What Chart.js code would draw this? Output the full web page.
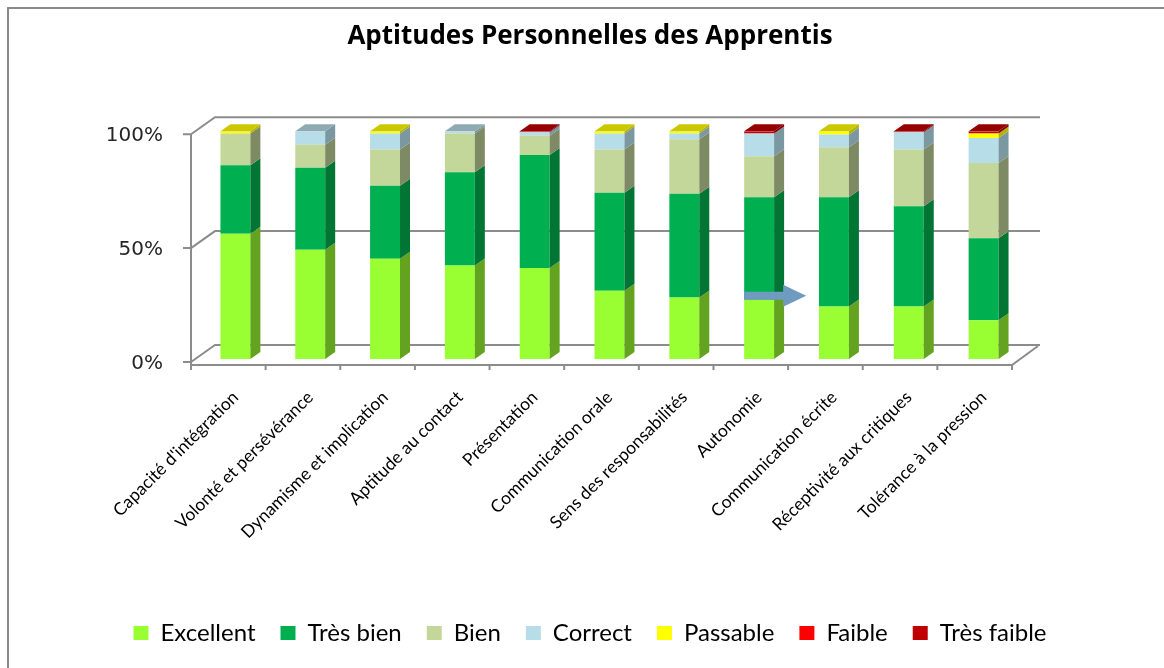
<!DOCTYPE html>
<html>
<head>
<meta charset="utf-8">
<script src="https://cdn.jsdelivr.net/npm/chart.js@4/dist/chart.umd.min.js"></script>
<style>
  html, body { margin: 0; padding: 0; background: #fff; }
  #wrap { width: 1164px; height: 668px; position: relative; }
</style>
</head>
<body>
<div id="wrap"><canvas id="chart" width="1164" height="668"></canvas></div>
<script>
// categories and series (percent of apprentices)
const categories = [
  "Capacité d'intégration", "Volonté et persévérance", "Dynamisme et implication",
  "Aptitude au contact", "Présentation", "Communication orale",
  "Sens des responsabilités", "Autonomie", "Communication écrite",
  "Réceptivité aux critiques", "Tolérance à la pression"
];
const excellent  = [55, 48, 44, 41, 40,   30, 27,   26, 23,   23,   17];
const tresBien   = [30, 36, 32, 41, 49.5, 43, 45.5, 45, 48,   44,   36];
const bien       = [14, 10, 16, 17, 8.5,  19, 24,   18, 22,   25,   33];
const correct    = [0,  6,  7,  1,  1.5,  7,  2.5,  10, 5.5,  7.5,  11];
const passable   = [1,  0,  1,  0,  0,    1,  1,    0,  1.5,  0,    2];
const faible     = [0,  0,  0,  0,  0,    0,  0,    0,  0,    0,    0];
const tresFaible = [0,  0,  0,  0,  0.5,  0,  0,    1,  0,    0.5,  1];
const yTicks = [0, 50, 100];

const seriesNames = ['Excellent', 'Très bien', 'Bien', 'Correct', 'Passable', 'Faible', 'Très faible'];
const seriesData = [excellent, tresBien, bien, correct, passable, faible, tresFaible];
const fronts = ['#99FF33', '#00B050', '#C4D79B', '#B7DDE8', '#FFFF00', '#FF0000', '#C00000'];
const sides  = ['#63A31F', '#007534', '#7E8A64', '#7B98A1', '#B3B300', '#B00000', '#7F0000'];
const tops   = ['#7ACC29', '#008C40', '#9EAD7C', '#8FAAB2', '#CCC800', '#CC0000', '#960000'];

const AXIS = '#8C8C8C';
const DX = 10, DY = 7;         // bar depth
const WX = 24, WY = 17;        // wall depth

// 3D look: back wall, floor, front axes, bar sides and tops
const depth3d = {
  id: 'depth3d',
  beforeDatasetsDraw(chart) {
    const ctx = chart.ctx, xs = chart.scales.x, ys = chart.scales.y;
    const step = (xs.right - xs.left) / categories.length;
    const fl = xs.left - 7, fr = xs.right - 9;
    const off = 3;
    ctx.save();
    ctx.strokeStyle = AXIS;
    ctx.lineWidth = 2;
    ctx.beginPath();
    yTicks.forEach(v => {
      const yf = ys.getPixelForValue(v) + off;
      ctx.moveTo(fl, yf); ctx.lineTo(fl + WX, yf - WY);
      ctx.lineTo(fr + WX + 4, yf - WY);
      ctx.moveTo(fl - 8, yf); ctx.lineTo(fl, yf);
    });
    // front y axis
    const y0 = ys.getPixelForValue(0) + off, y100 = ys.getPixelForValue(100) + off;
    ctx.moveTo(fl, y100); ctx.lineTo(fl, y0 + 4);
    // front x axis + floor edge
    const ya = y0 + 3;
    ctx.moveTo(fl, ya); ctx.lineTo(fr, ya); ctx.lineTo(fr + WX + 2, ya - WY - 2);
    for (let i = 0; i <= categories.length; i++) {
      const x = fl + i * step * (fr - fl) / (xs.right - xs.left);
      ctx.moveTo(x, ya); ctx.lineTo(x, ya + 5);
    }
    ctx.stroke();
    ctx.restore();
  },
  afterDatasetsDraw(chart) {
    const ctx = chart.ctx;
    const n = chart.data.datasets.length;
    ctx.save();
    categories.forEach((c, i) => {
      let topDs = -1;
      for (let d = 0; d < n; d++) {
        const bar = chart.getDatasetMeta(d).data[i];
        if (!seriesData[d][i]) continue;
        topDs = d;
        const r = bar.x + bar.width / 2;
        ctx.fillStyle = sides[d];
        ctx.beginPath();
        ctx.moveTo(r, bar.y); ctx.lineTo(r + DX, bar.y - DY);
        ctx.lineTo(r + DX, bar.base - DY); ctx.lineTo(r, bar.base);
        ctx.closePath(); ctx.fill();
      }
      if (topDs >= 0) {
        const bar = chart.getDatasetMeta(topDs).data[i];
        const l = bar.x - bar.width / 2, r = bar.x + bar.width / 2;
        ctx.fillStyle = tops[topDs];
        ctx.beginPath();
        ctx.moveTo(l, bar.y); ctx.lineTo(l + DX, bar.y - DY);
        ctx.lineTo(r + DX, bar.y - DY); ctx.lineTo(r, bar.y);
        ctx.closePath(); ctx.fill();
      }
    });
    // blue arrow annotation on Autonomie
    const k = categories.indexOf('Autonomie');
    const b = chart.getDatasetMeta(0).data[k];
    const ax = b.x - b.width / 2, ay = b.y - 4;
    ctx.fillStyle = '#6F9BC1';
    ctx.beginPath();
    ctx.moveTo(ax, ay - 4); ctx.lineTo(ax + 39, ay - 4); ctx.lineTo(ax + 39, ay - 11);
    ctx.lineTo(ax + 62, ay); ctx.lineTo(ax + 39, ay + 11); ctx.lineTo(ax + 39, ay + 4);
    ctx.lineTo(ax, ay + 4);
    ctx.closePath(); ctx.fill();
    ctx.restore();
  }
};

// outer frame
const frame = {
  id: 'frame',
  afterDraw(chart) {
    const ctx = chart.ctx;
    ctx.save();
    ctx.strokeStyle = '#8A8A8A';
    ctx.lineWidth = 2;
    ctx.strokeRect(8, 8, 1170, 680);
    ctx.restore();
  }
};

new Chart(document.getElementById('chart'), {
  type: 'bar',
  data: {
    labels: categories,
    datasets: seriesNames.map((name, d) => ({
      label: name,
      data: seriesData[d],
      backgroundColor: fronts[d],
      borderWidth: 0,
      barPercentage: 0.4,
      categoryPercentage: 1
    }))
  },
  options: {
    responsive: false,
    animation: false,
    layout: { padding: { left: 16, right: 0, top: 0, bottom: 13 } },
    plugins: {
      title: {
        display: true,
        text: 'Aptitudes Personnelles des Apprentis',
        font: { family: 'Open Sans', size: 26, weight: 'bold', lineHeight: 1.2 },
        color: '#000',
        padding: { top: 21, bottom: 79 }
      },
      legend: {
        position: 'bottom',
        labels: {
          font: { family: 'Lato', size: 24 },
          color: '#000',
          boxWidth: 15,
          boxHeight: 14,
          padding: 25
        }
      },
      tooltip: { enabled: false }
    },
    scales: {
      x: {
        stacked: true,
        grid: { display: false, drawTicks: false },
        border: { display: false },
        ticks: {
          autoSkip: false, minRotation: 45, maxRotation: 45,
          padding: 28,
          font: { family: 'Lato', size: 17.5 },
          color: '#000'
        },
        afterFit(scale) { scale.height = 237; }
      },
      y: {
        stacked: true,
        min: 0, max: 100,
        grid: { display: false, drawTicks: false },
        border: { display: false },
        ticks: {
          stepSize: 50,
          padding: 35,
          labelOffset: 5,
          callback: v => v + '%',
          font: { family: 'DejaVu Sans', size: 20 },
          color: '#262626'
        },
        afterFit(scale) { scale.width = 182; }
      },
      yR: {
        position: 'right',
        grid: { display: false, drawTicks: false },
        border: { display: false },
        ticks: { display: false },
        afterFit(scale) { scale.width = 143; }
      }
    }
  },
  plugins: [depth3d, frame]
});
</script>
</body>
</html>
